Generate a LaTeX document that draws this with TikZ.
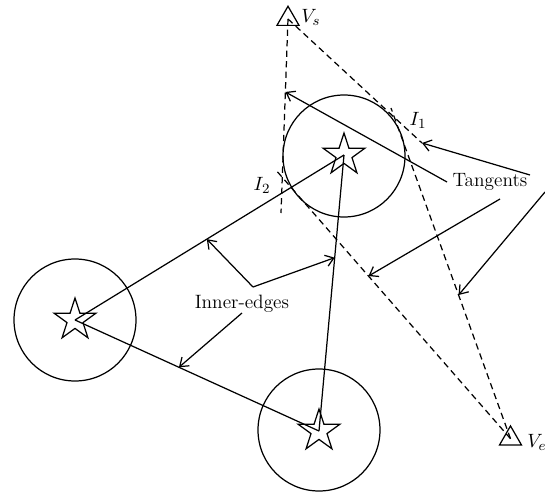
\documentclass[tikz,border=0pt]{standalone}
\usepackage{amsmath}
\usepackage{tikz}
\usetikzlibrary{calc, shapes.geometric, arrows.meta}

\begin{document}
\begin{tikzpicture}[x=0.02cm, y=-0.02cm, line width=0.7pt,
    font=\fontsize{11}{13}\selectfont,
    tangent/.style={dash pattern=on 3.6pt off 2.4pt},
    pointer/.style={-{Straight Barb[length=4.5pt, width=6.5pt]}},
    sensor/.style={star, star points=5, star point ratio=2.618, draw,
                   inner sep=0pt, minimum size=0.88cm},
    vertex/.style={regular polygon, regular polygon sides=3, draw,
                   inner sep=0pt, minimum size=0.51cm}]

    \useasboundingbox (0,0) rectangle (545,494);

    % Coverage circles round the three sensors
    \draw (344,156) circle (61);
    \draw (75,320) circle (61);
    \draw (319,430) circle (61);

    % Sensors (stars) and the two end vertices (triangles)
    \node[sensor] (S1) at (344,155) {};
    \node[sensor] (S2) at (75,320) {};
    \node[sensor] (S3) at (319,431) {};
    \node[vertex] (Vs) at (288,19) {};
    \node[vertex] (Ve) at (510.5,438.7) {};
    \node (lVs) at (311,17) {$V_s$};
    \node (lVe) at (537,442) {$V_e$};

    % Free ends of the tangent lines
    \coordinate (tA) at (422,143);
    \coordinate (tB) at (391,108);
    \coordinate (tC) at (281,213);
    \coordinate (tD) at (275,169);

    % Tangents from V_s and V_e to the upper circle
    \draw[tangent] (Vs.center) -- (tA);
    \draw[tangent] (Vs.center) -- (tC);
    \draw[tangent] (Ve.center) -- (tB);
    \draw[tangent] (Ve.center) -- (tD);
    \node (lI1) at (418,120) {$I_1$};
    \node (lI2) at (262,185) {$I_2$};

    % Inner edges between the sensors
    \draw (S2.center) -- (S1.center);
    \draw (S1.center) -- (S3.center);
    \draw (S2.center) -- (S3.center);

    % Label for the inner edges
    \node (inner) at (242,304) {Inner-edges};
    \coordinate (iv) at (253,287);
    \draw[pointer] (iv) -- ($(S2)!0.49!(S1)$);
    \draw[pointer] (iv) -- ($(S1)!0.372!(S3)$);
    \draw[pointer] (242,313) -- ($(S2)!0.426!(S3)$);

    % Label for the tangents
    \node (tang) at (490,182) {Tangents};
    \draw[pointer] (530,175) -- (tA);
    \draw[pointer] (447,182) -- ($(Vs)!0.376!(tC)$);
    \draw[pointer] (500,199) -- ($(Ve)!0.603!(tD)$);
    \draw[pointer] (545,192) -- ($(Ve)!0.4345!(tB)$);

\end{tikzpicture}
\end{document}
